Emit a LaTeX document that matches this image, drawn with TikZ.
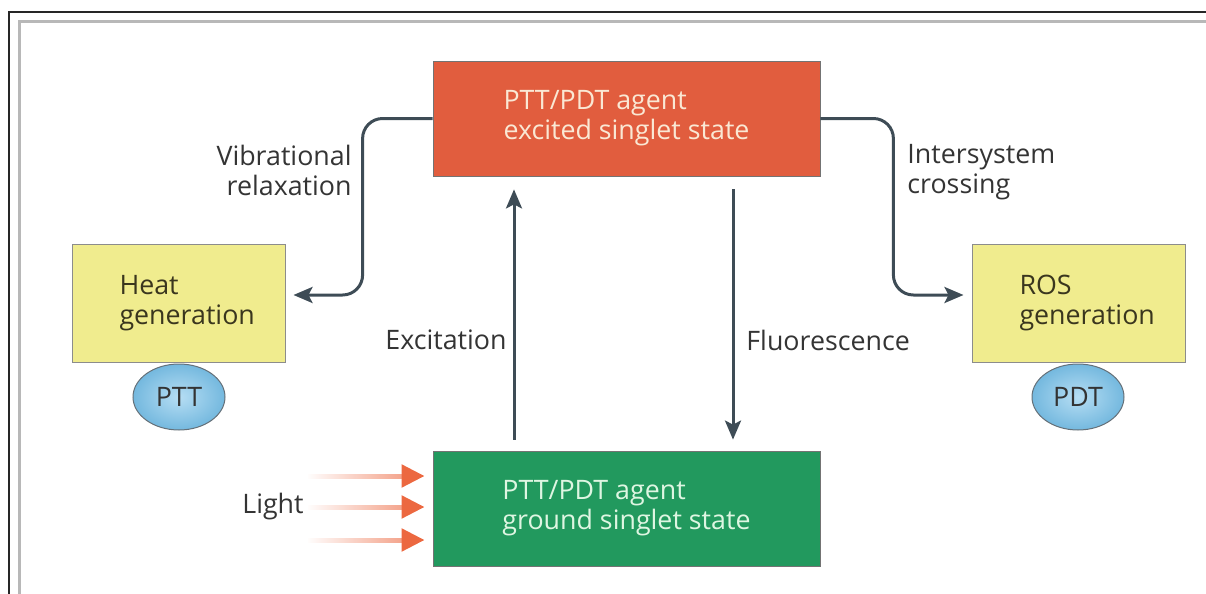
\documentclass[tikz,border=0pt]{standalone}
\usepackage{fontspec}
\setmainfont{Open Sans}
\usepackage{xcolor}
\usepackage{tikz}
\usetikzlibrary{arrows.meta,positioning,shapes.geometric,fadings}
\definecolor{excitedred}{RGB}{225,93,62}
\definecolor{excitedtext}{RGB}{250,232,212}
\definecolor{groundgreen}{RGB}{34,153,94}
\definecolor{groundtext}{RGB}{222,246,226}
\definecolor{outcomeyellow}{RGB}{240,236,142}
\definecolor{outcometext}{RGB}{58,54,30}
\definecolor{modeblue}{RGB}{122,194,234}
\definecolor{flowgray}{RGB}{62,76,86}
\definecolor{beamorange}{RGB}{236,104,64}
\definecolor{labelgray}{RGB}{52,52,52}
\tikzfading[name=beamfade, left color=transparent!100, right color=transparent!0]
\hfuzz=20pt
\tikzset{
  statebox/.style={
    draw=black!55,
    line width=0.4pt,
    align=left,
    minimum width=193.5pt,
    minimum height=57.5pt,
    font=\fontsize{13.4}{15}\selectfont
  },
  outcome/.style={
    draw=black!45,
    line width=0.5pt,
    fill=outcomeyellow,
    align=left,
    text width=59pt,
    text=outcometext,
    minimum width=106.5pt,
    minimum height=59pt,
    font=\fontsize{13.4}{15}\selectfont
  },
  modality/.style={
    ellipse,
    draw=flowgray!80,
    line width=0.5pt,
    inner color=modeblue!55!white,
    outer color=modeblue!95!black,
    minimum width=46pt,
    minimum height=33pt,
    inner sep=0pt,
    text=black!80,
    font=\fontsize{13.4}{15}\selectfont
  },
  steplabel/.style={
    align=left,
    inner sep=0pt,
    text=labelgray,
    font=\fontsize{13.4}{15}\selectfont
  },
  flowline/.style={
    draw=flowgray,
    line width=1.5pt,
    -{Stealth[length=9.5pt,width=8pt,inset=2pt]}
  },
  beamline/.style={
    draw=beamorange!80!white,
    line width=2.5pt,
    path fading=beamfade
  },
  beamtip/.style={
    draw=beamorange,
    line width=2.5pt,
    -{Triangle[length=11.5pt,width=11pt]}
  }
}
\begin{document}
\begin{tikzpicture}[x=0.5pt,y=-0.5pt]
  \useasboundingbox (0,0) rectangle (1206,594);
  % page frame
  \draw[black!85, line width=1pt] (9,594) |- (1206,12);
  \draw[black!28, line width=1.5pt] (19,594) |- (1206,21);

  % states
  \node[statebox, fill=excitedred, text=excitedtext] (excited) at (626.5,118.5)
    {PTT/PDT agent\\excited singlet state};
  \node[statebox, fill=groundgreen, text=groundtext] (ground) at (626.5,508.5)
    {PTT/PDT agent\\ground singlet state};

  % outcomes
  \node[outcome] (heat) at (178.5,303) {Heat\\generation};
  \node[outcome] (ros) at (1078.5,303) {ROS\\generation};
  \node[modality] (ptt) at (179,397) {PTT};
  \node[modality] (pdt) at (1078,397) {PDT};

  % labels
  \node[steplabel, anchor=east, align=right] (vib) at (352,170) {Vibrational\\relaxation};
  \node[steplabel, anchor=west] (isc) at (907,172) {Intersystem\\crossing};
  \node[steplabel, anchor=east] (exc) at (507,340) {Excitation};
  \node[steplabel, anchor=west] (flu) at (746,340) {Fluorescence};
  \node[steplabel] (light) at (273,507) {Light};

  % transitions
  \draw[flowline, rounded corners=10pt, shorten >=4pt]
    (excited.west) -- ++(-70,0) |- ([yshift=4pt]heat.east);
  \draw[flowline, rounded corners=10pt, shorten >=4pt]
    (excited.east) -- ++(73,0) |- ([yshift=4pt]ros.west);
  \draw[flowline, shorten <=5.5pt, shorten >=6.5pt]
    ([xshift=-56.25pt]ground.north) -- ([xshift=-56.25pt]excited.south);
  \draw[flowline, shorten <=6.5pt, shorten >=5.5pt]
    ([xshift=53.25pt]excited.south) -- ([xshift=53.25pt]ground.north);

  % incoming light
  \coordinate (beam1) at (308,476);
  \coordinate (beam2) at (308,507);
  \coordinate (beam3) at (308,540);
  \foreach \b in {beam1,beam2,beam3} {
    \draw[beamline, shorten >=14pt] (\b) -- (\b -| ground.west);
    \draw[beamtip, shorten >=4pt] ([xshift=-12pt]\b -| ground.west) -- (\b -| ground.west);
  }
\end{tikzpicture}
\end{document}
